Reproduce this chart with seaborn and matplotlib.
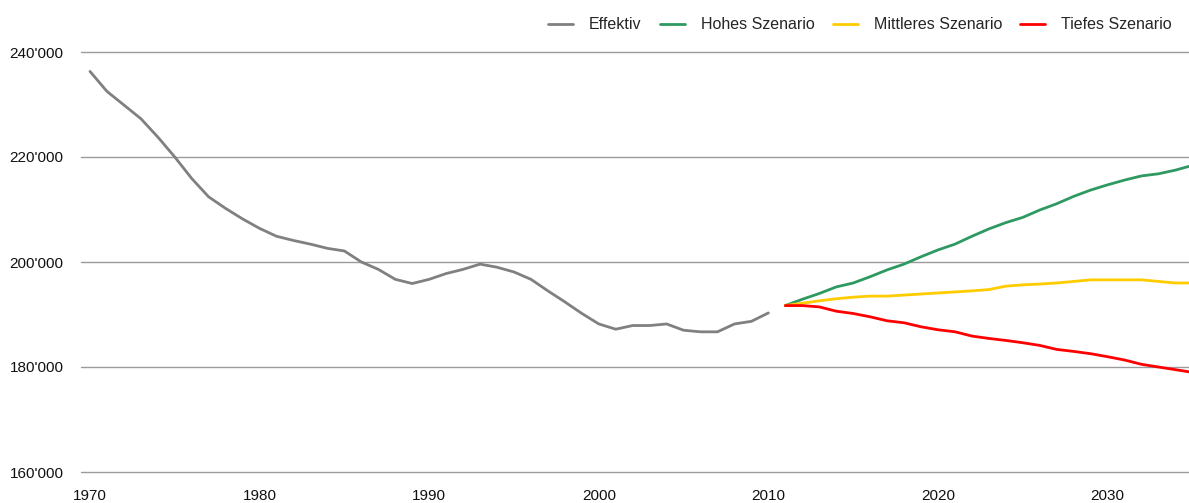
import numpy as np
import pandas as pd
import matplotlib
matplotlib.use("Agg")
import matplotlib.pyplot as plt
import matplotlib.ticker as mticker
import seaborn as sns

years_eff = list(range(1970, 2011))
effektiv = [236300, 232500, 229900, 227300, 223800, 220000, 215900, 212400, 210200, 208200,
            206400, 204900, 204100, 203400, 202600, 202100, 200000, 198600, 196700, 195900,
            196700, 197800, 198600, 199600, 199000, 198100, 196700, 194500, 192400, 190200,
            188200, 187200, 187900, 187900, 188200, 187000, 186700, 186700, 188200, 188700,
            190300]

years_scen = list(range(2011, 2036))
hoch = [191700, 192900, 194000, 195250, 196000, 197200, 198500, 199600, 201000, 202300,
        203400, 204900, 206300, 207500, 208500, 209900, 211100, 212500, 213700, 214700,
        215600, 216400, 216800, 217500, 218400]
mittel = [191700, 192150, 192600, 193000, 193300, 193500, 193500, 193700, 193900, 194100,
          194300, 194500, 194750, 195400, 195650, 195800, 196000, 196300, 196600, 196600,
          196600, 196600, 196300, 196000, 196000]
tief = [191700, 191700, 191450, 190630, 190190, 189560, 188800, 188420, 187660, 187090,
        186710, 185890, 185440, 185060, 184620, 184110, 183350, 182970, 182530, 181960,
        181330, 180510, 180000, 179490, 178980]

series_names = ["Effektiv", "Hohes Szenario", "Mittleres Szenario", "Tiefes Szenario"]
colors = ["#808080", "#2e9a62", "#ffcc00", "#ff0000"]
x_ticks = [1970, 1980, 1990, 2000, 2010, 2020, 2030]
y_ticks = [160000, 180000, 200000, 220000, 240000]

frames = [pd.DataFrame({"Jahr": years_eff, "Wert": effektiv, "Serie": series_names[0]})]
for name, vals in zip(series_names[1:], [hoch, mittel, tief]):
    frames.append(pd.DataFrame({"Jahr": years_scen, "Wert": vals, "Serie": name}))
df = pd.concat(frames, ignore_index=True)

sns.set_theme(style="white")
plt.rcParams["font.family"] = ["Liberation Sans", "DejaVu Sans"]

fig = plt.figure(figsize=(11.89, 5.03), dpi=100)
ax = fig.add_axes([81 / 1189, 31 / 503, 1 - 81 / 1189, (472 - 52) / 503])

sns.lineplot(data=df, x="Jahr", y="Wert", hue="Serie", hue_order=series_names,
             palette=dict(zip(series_names, colors)), linewidth=2.0, ax=ax, legend=True)

ax.set_xlim(1969.47, 2034.8)
ax.set_ylim(160000, 240000)
ax.set_xticks(x_ticks)
ax.set_yticks(y_ticks)
ax.yaxis.set_major_formatter(mticker.FuncFormatter(lambda v, p: f"{int(v):,}".replace(",", "'")))
ax.set_xlabel("")
ax.set_ylabel("")
ax.grid(axis="y", color="#9a9a9a", linewidth=1.0)
ax.grid(axis="x", visible=False)
for gl in ax.yaxis.get_gridlines():
    gl.set_clip_on(False)
ax.set_axisbelow(True)
for s in ax.spines.values():
    s.set_visible(False)
ax.tick_params(axis="y", length=0, pad=12.5, labelsize=11, colors="#111111")
ax.tick_params(axis="x", length=0, pad=12.5, labelsize=11, colors="#111111")

handles, labels = ax.get_legend_handles_labels()
ax.legend(handles=handles, labels=labels, ncol=4, frameon=False, fontsize=11.5,
          loc="upper right", bbox_to_anchor=(1 - 11 / 1189, 1 - 11 / 503),
          bbox_transform=fig.transFigure, handlelength=1.55, handletextpad=1.0,
          columnspacing=1.15, borderaxespad=0)

fig.savefig("out.png", dpi=100)
